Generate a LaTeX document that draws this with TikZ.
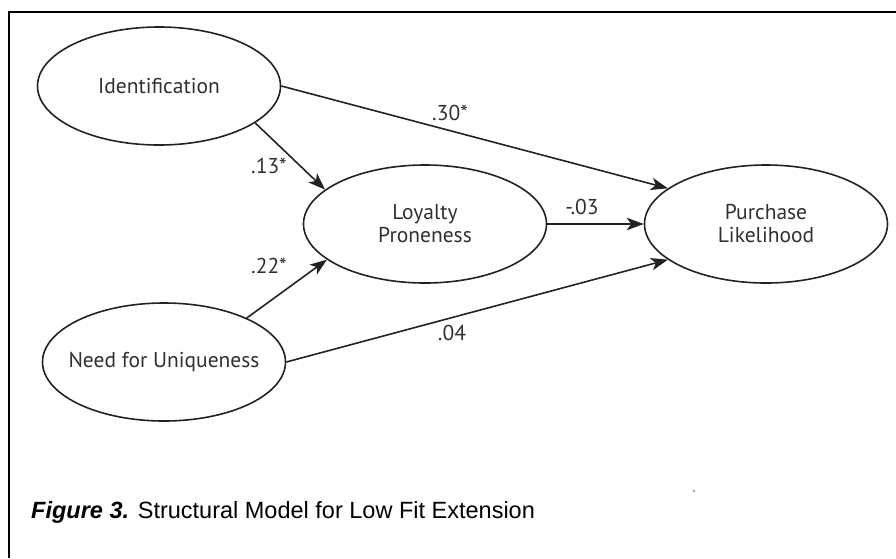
\documentclass[tikz,border=0pt]{standalone}
\usepackage{fontspec}
\setmainfont{PT Sans}
\newfontfamily\capfont{Liberation Sans}
\usetikzlibrary{shapes.geometric,arrows.meta}
\definecolor{ink}{HTML}{222222}
\definecolor{txt}{HTML}{303030}
\tikzset{
  latent/.style={ellipse, draw=ink, line width=1.6pt, minimum width=243pt,
    minimum height=118pt, inner sep=0pt},
  varlabel/.style={text=txt, align=center, inner sep=0pt,
    font=\fontsize{21.5}{25}\selectfont},
  path/.style={draw=ink, line width=1.6pt,
    -{Stealth[length=17pt,width=12.5pt,inset=4.5pt]}},
  coef/.style={text=txt, inner sep=0pt, font=\fontsize{21.5}{25}\selectfont}
}
\begin{document}
\begin{tikzpicture}[x=1pt,y=-1pt]
  \useasboundingbox (0,0) rectangle (896,558);
  % frame
  \draw[line width=2.4pt] (9,558) |- (896,12);

  % latent variables (fixed-size ellipses, names centred inside)
  \node[latent, label={[varlabel]center:Identification}] (id) at (159,86) {};
  \node[latent, label={[varlabel]center:Loyalty\\[-2pt]Proneness}] (lp) at (425,224) {};
  \node[latent, label={[varlabel]center:Purchase\\[-2pt]Likelihood}] (pl) at (766,224) {};
  \node[latent, label={[varlabel]center:Need for Uniqueness}] (nu) at (164,362) {};

  % structural paths
  \draw[path] (id.east) -- (pl.160);
  \draw[path] (id.-21) -- (lp.161);
  \draw[path] (lp.east) -- (pl.west);
  \draw[path] (nu.28) -- (lp.200);
  \draw[path] (nu.east) -- (pl.200);

  % path coefficients
  \node[coef] (c1) at (450,113) {.30*};
  \node[coef] (c2) at (269,166) {.13*};
  \node[coef] (c3) at (269,266) {.22*};
  \node[coef] (c4) at (582,207) {-.03};
  \node[coef] (c5) at (452,333) {.04};

  % caption
  \node[anchor=base west, inner sep=0pt, font=\capfont\fontsize{23.5}{28}\selectfont]
    (cap) at (31,518) {\textbf{\textit{Figure 3.}} Structural Model for Low Fit Extension};

  % speck
  \fill[gray] (694,491) circle (1.2);
\end{tikzpicture}
\end{document}
